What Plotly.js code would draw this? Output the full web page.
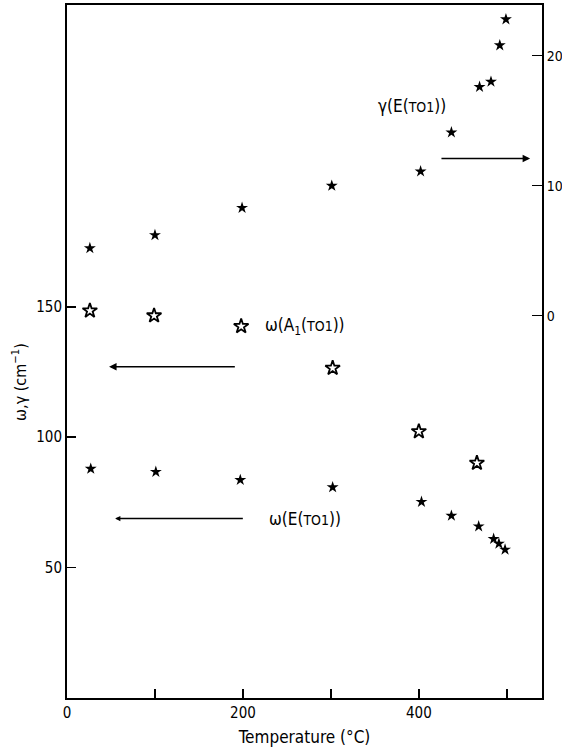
<!DOCTYPE html>
<html><head><meta charset="utf-8">
<script src="https://cdn.plot.ly/plotly-3.0.1.min.js"></script>
<style>html,body{margin:0;padding:0;background:#fff;}#c{width:562px;height:751px;}</style>
</head><body><div id="c"></div>
<script>
// gamma(E(TO1)) damping, right axis
const gammaT = [26, 100, 199, 301, 402, 437, 469, 482, 492, 499];
const gammaV = [5.2, 6.2, 8.3, 10.0, 11.1, 14.1, 17.6, 18.0, 20.8, 22.8];
// omega(A1(TO1)), left axis
const omegaAT = [26, 99, 198, 302, 400, 466];
const omegaAV = [148.5, 146.6, 142.5, 126.5, 102.2, 90.1];
// omega(E(TO1)), left axis
const omegaET = [27, 101, 197, 302, 403, 437, 468, 485, 491, 498];
const omegaEV = [87.9, 86.7, 83.6, 80.8, 75.2, 69.9, 65.8, 61.0, 59.2, 56.9];

const xTickVals = [0, 200, 400];
const xMinorVals = [100, 300, 500];
const yTickVals = [50, 100, 150];
const y2TickVals = [0, 10, 20];

const FONT = '"DejaVu Sans Condensed", "DejaVu Sans", sans-serif';

const traces = [
  {x: gammaT, y: gammaV, yaxis: 'y2', mode: 'markers', type: 'scatter',
   marker: {symbol: 'star', size: 9, color: '#000'}},
  {x: omegaAT, y: omegaAV, mode: 'markers', type: 'scatter',
   marker: {symbol: 'star-open', size: 11, color: '#000', line: {width: 1.8, color: '#000'}}},
  {x: omegaET, y: omegaEV, mode: 'markers', type: 'scatter',
   marker: {symbol: 'star', size: 9, color: '#000'}}
];

const small = '<span style="font-size:14px">TO1</span>';
const AF = {family: FONT, size: 17, color: '#000'};
const layout = {
  width: 562, height: 751,
  margin: {l: 67, r: 19.5, t: 5, b: 52.5},
  paper_bgcolor: '#fff', plot_bgcolor: '#fff',
  showlegend: false,
  font: {family: FONT, size: 15, color: '#000'},
  xaxis: {range: [0, 540], tickvals: xTickVals,
    ticks: 'inside', ticklen: 9, tickwidth: 1.5, tickcolor: '#000',
    minor: {tickvals: xMinorVals, ticks: 'inside', ticklen: 9, tickwidth: 1.5, tickcolor: '#000', showgrid: false},
    showline: true, linewidth: 2, linecolor: '#000', mirror: true,
    showgrid: false, zeroline: false,
    title: {text: 'Temperature (°C)', font: {size: 17}, standoff: 10}},
  yaxis: {range: [0, 265.7], tickvals: yTickVals,
    ticks: 'inside', ticklen: 9, tickwidth: 1.5, tickcolor: '#000',
    showline: true, linewidth: 2, linecolor: '#000',
    showgrid: false, zeroline: false},
  yaxis2: {range: [-29.4, 23.9], tickvals: y2TickVals, overlaying: 'y', side: 'right',
    ticks: 'inside', ticklen: 10, tickwidth: 1.5, tickcolor: '#000',
    tickfont: {size: 14},
    showline: true, linewidth: 2, linecolor: '#000',
    showgrid: false, zeroline: false},
  annotations: [
    {xref: 'paper', yref: 'paper', x: -0.099, y: 0.456, xanchor: 'center', yanchor: 'middle',
     textangle: -90, text: 'ω,γ (cm<sup>−1</sup>)', showarrow: false, font: {family: FONT, size: 16, color: '#000'}},
    {xref: 'x', yref: 'y2', x: 350.8, y: 16.1, xanchor: 'left', yanchor: 'middle',
     text: 'γ(E(' + small + '))', showarrow: false, font: AF},
    {xref: 'x', yref: 'y2', axref: 'x', ayref: 'y2', x: 526.5, y: 12.1, ax: 424, ay: 12.1,
     text: '', showarrow: true, arrowhead: 2, arrowsize: 1, arrowwidth: 1.5, arrowcolor: '#000'},
    {xref: 'x', yref: 'y', x: 223.2, y: 142.3, xanchor: 'left', yanchor: 'middle',
     text: 'ω(A<sub>1</sub>(' + small + '))', showarrow: false, font: AF},
    {xref: 'x', yref: 'y', axref: 'x', ayref: 'y', x: 47.8, y: 127.0, ax: 192.5, ay: 127.0,
     text: '', showarrow: true, arrowhead: 2, arrowsize: 1, arrowwidth: 1.5, arrowcolor: '#000'},
    {xref: 'x', yref: 'y', x: 227.8, y: 68.8, xanchor: 'left', yanchor: 'middle',
     text: 'ω(E(' + small + '))', showarrow: false, font: AF},
    {xref: 'x', yref: 'y', axref: 'x', ayref: 'y', x: 54.7, y: 68.8, ax: 201.6, ay: 68.8,
     text: '', showarrow: true, arrowhead: 2, arrowsize: 0.7, arrowwidth: 1.5, arrowcolor: '#000'}
  ]
};
Plotly.newPlot('c', traces, layout, {staticPlot: true, displayModeBar: false});
</script></body></html>
